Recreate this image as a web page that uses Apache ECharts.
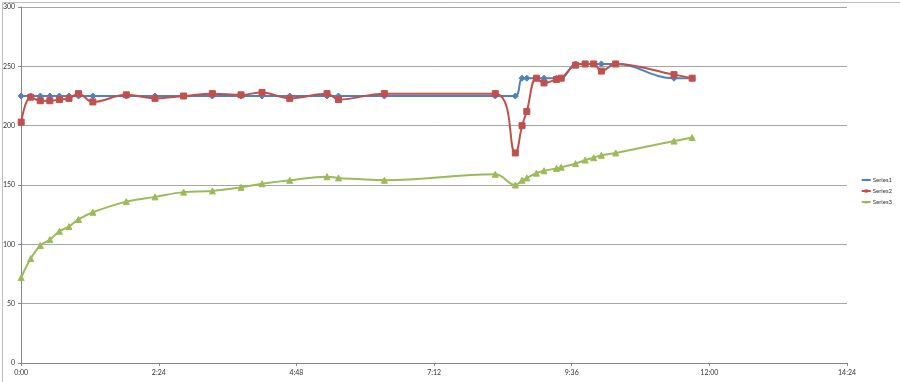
<!DOCTYPE html>
<html>
<head>
<meta charset="utf-8">
<script src="https://cdn.jsdelivr.net/npm/echarts@6/dist/echarts.min.js"></script>
<style>
html,body{margin:0;padding:0;background:#fff;}
#c{width:900px;height:382px;}
</style>
</head>
<body>
<div id="c"></div>
<script>
// x values in minutes since 0:00
const times = [0,10,20,30,40,50,60,75,110,140,170,200,230,252,281,320,332,380,496,517,524,529,539,547,560,565,580,590,599,607,622,683,702];
const series1 = [225,225,225,225,225,225,225,225,225,225,225,225,225,225,225,225,225,225,225,225,240,240,240,240,240,240,252,252,252,252,252,240,240];
const series2 = [203,224,221,221,222,223,227,220,226,223,225,227,226,228,223,227,222,227,227,177,200,212,240,236,239,240,251,252,252,246,252,243,240];
const series3 = [72,88,99,104,111,115,121,127,136,140,144,145,148,151,154,157,156,154,159,150,154,156,160,162,164,165,168,171,173,175,177,187,190];
const seriesNames = ['Series1','Series2','Series3'];
const xTickLabels = ['0:00','2:24','4:48','7:12','9:36','12:00','14:24'];
const yTicks = [0,50,100,150,200,250,300];

const xMin = 0, xMax = 864, xStep = 144;
const pair = (vals) => times.map((t, i) => [t, vals[i]]);
const colors = ['#4F81BD', '#C0504D', '#9BBB59'];
const symbols = ['diamond', 'rect', 'triangle'];
const sizes = [6, 6, 6];
const font = 'Lato, "Open Sans", sans-serif';

const chart = echarts.init(document.getElementById('c'), null, {renderer: 'canvas'});
chart.setOption({
  animation: false,
  backgroundColor: '#fff',
  color: colors,
  textStyle: {fontFamily: font},
  graphic: [{
    type: 'rect', left: 0, top: 0, silent: true, z: -10,
    shape: {x: 0.5, y: 0.5, width: 899, height: 381},
    style: {fill: 'none', stroke: '#bfbfbf', lineWidth: 1}
  }],
  grid: {left: 21, right: 53, top: 7, bottom: 19, containLabel: false},
  legend: {
    orient: 'vertical', right: 8, top: 177, padding: 0,
    itemWidth: 9, itemHeight: 4, itemGap: 5,
    textStyle: {fontSize: 6, color: '#333', fontFamily: font, padding: [0, 0, 0, -3], overflow: 'none'},
    data: seriesNames
  },
  xAxis: {
    type: 'value', min: xMin, max: xMax, interval: xStep,
    axisLine: {show: true, lineStyle: {color: '#868686', width: 1}},
    axisTick: {show: true, length: 3, inside: false, lineStyle: {color: '#868686'}},
    splitLine: {show: false},
    axisLabel: {
      fontSize: 7, color: '#333', margin: 6,
      formatter: (v) => xTickLabels[Math.round((v - xMin) / xStep)]
    }
  },
  yAxis: {
    type: 'value', min: 0, max: 300, interval: 50,
    axisLine: {show: true, lineStyle: {color: '#868686', width: 1}},
    axisTick: {show: true, length: 3, lineStyle: {color: '#868686'}},
    splitLine: {show: true, lineStyle: {color: '#a6a6a6', width: 1}},
    axisLabel: {
      fontSize: 7, color: '#333', margin: 6,
      formatter: (v) => yTicks.includes(v) ? String(v) : ''
    }
  },
  series: [series1, series2, series3].map((vals, i) => ({
    name: seriesNames[i],
    type: 'line',
    data: pair(vals),
    smooth: 0.4,
    symbol: symbols[i],
    symbolSize: sizes[i],
    showAllSymbol: true,
    lineStyle: {width: 2, color: colors[i]},
    itemStyle: {color: colors[i], borderColor: colors[i]},
    emphasis: {disabled: true}
  }))
});
</script>
</body>
</html>
